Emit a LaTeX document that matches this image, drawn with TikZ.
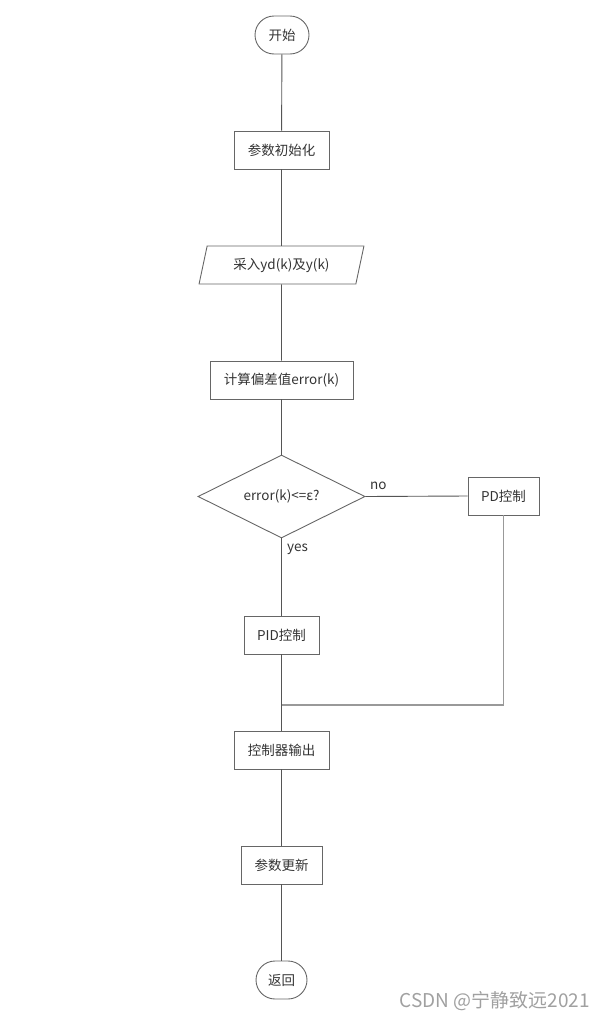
\documentclass[tikz,border=0pt]{standalone}
\usepackage{fontspec}
\setmainfont{Noto Sans CJK SC}
\usetikzlibrary{shapes.geometric,shapes.misc}
\definecolor{linec}{HTML}{555555}
\definecolor{boxc}{HTML}{666666}
\definecolor{txtc}{HTML}{333333}
\definecolor{lightl}{HTML}{999999}
\definecolor{wm}{HTML}{A0A0A0}
\tikzset{
  base/.style={draw=boxc, line width=0.9pt, text=txtc, font=\fontsize{13.5}{16}\selectfont, inner sep=0pt, minimum height=38pt},
  procbox/.style={base, rectangle},
  termbox/.style={base, rounded rectangle},
  iobox/.style={base, trapezium, trapezium left angle=70, trapezium right angle=110, trapezium stretches=true},
  decbox/.style={base, diamond, aspect=2},
  conn/.style={draw=linec, line width=0.9pt},
  connl/.style={draw=lightl, line width=1.1pt},
  lbl/.style={text=txtc, font=\fontsize{13.5}{16}\selectfont, inner sep=0pt}
}
\begin{document}
\begin{tikzpicture}[x=1pt,y=-1pt]
\useasboundingbox (0,0) rectangle (605,1020);
\node[termbox, minimum width=54pt] (start) at (282,35) {开始};
\node[procbox, minimum width=95pt] (init) at (281.5,150) {参数初始化};
\node[iobox, minimum width=165pt] (input) at (281.5,265) {采入yd(k)及y(k)};
\node[procbox, minimum width=143pt] (err) at (281.5,380) {计算偏差值error(k)};
\node[decbox, minimum width=167pt, minimum height=83pt] (dec) at (281.5,496.5) {error(k)<=ε?};
\node[procbox, minimum width=71pt] (pd) at (503.5,496) {PD控制};
\node[procbox, minimum width=75pt] (pid) at (281.5,635) {PID控制};
\node[procbox, minimum width=95pt] (out) at (281.5,750) {控制器输出};
\node[procbox, minimum width=81pt] (upd) at (281.5,865) {参数更新};
\node[termbox, minimum width=51pt] (ret) at (281.5,980) {返回};
\coordinate (merge) at (281.5,705);
\node[lbl, anchor=west] (nolbl) at (370,486) {no};
\node[lbl, anchor=west] (yeslbl) at (287,549) {yes};
\node[text=wm, font=\fontsize{19}{21}\selectfont, inner sep=0pt, anchor=east] (wmk) at (590,1001) {CSDN @宁静致远2021};
\draw[conn] (start) -- (init);
\draw[conn] (init) -- (input);
\draw[conn] (input) -- (err);
\draw[conn] (err) -- (dec);
\draw[conn] (dec.east) -- (pd.west);
\draw[conn] (dec.south) -- (pid.north);
\draw[conn] (pid.south) -- (merge) -- (out.north);
\draw[connl] (pd.south) |- (merge);
\draw[conn] (out) -- (upd);
\draw[conn] (upd) -- (ret);
\end{tikzpicture}
\end{document}
